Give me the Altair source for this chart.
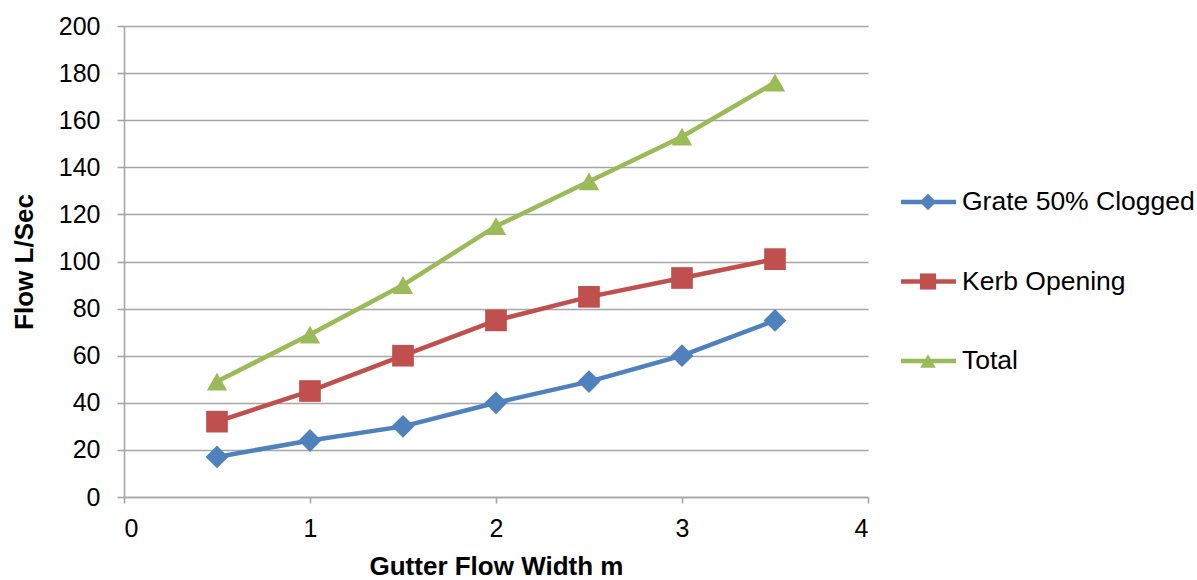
import altair as alt
import pandas as pd

# Gutter flow width (m) and inlet capacities (L/Sec)
widths = [0.5, 1.0, 1.5, 2.0, 2.5, 3.0, 3.5]
grate = [17, 24, 30, 40, 49, 60, 75]
kerb = [32, 45, 60, 75, 85, 93, 101]
total = [49, 69, 90, 115, 134, 153, 176]

series_names = ["Grate 50% Clogged", "Kerb Opening", "Total"]
series_colors = ["#4F81BD", "#C0504D", "#9BBB59"]
series_shapes = ["diamond", "square", "triangle-up"]
marker_sizes = [520, 420, 820]
legend_marker_sizes = [270, 250, 420]

rows = []
for name, vals in zip(series_names, [grate, kerb, total]):
    for w, v in zip(widths, vals):
        rows.append({"width": w, "flow": v, "series": name})
df = pd.DataFrame(rows)
legend_df = pd.DataFrame({"series": series_names})

FONT = "Liberation Sans"
GRID = "#A6A6A6"

color_enc = alt.Color("series:N", scale=alt.Scale(domain=series_names, range=series_colors), legend=None)
shape_enc = alt.Shape("series:N", scale=alt.Scale(domain=series_names, range=series_shapes), legend=None)

x_enc = alt.X(
    "width:Q",
    scale=alt.Scale(domain=[0, 4], nice=False),
    axis=alt.Axis(
        title="Gutter Flow Width m", values=[0, 1, 2, 3, 4], grid=False,
        tickSize=6, labelPadding=13, titlePadding=12,
    ),
)
y_enc = alt.Y(
    "flow:Q",
    scale=alt.Scale(domain=[0, 200], nice=False),
    axis=alt.Axis(
        title="Flow L/Sec", values=list(range(0, 201, 20)), grid=True,
        tickSize=7, labelPadding=17, titlePadding=21,
    ),
)

lines = alt.Chart(df).mark_line(strokeWidth=4.5).encode(x=x_enc, y=y_enc, color=color_enc, detail="series:N")
points = alt.Chart(df).mark_point(filled=True, opacity=1).encode(
    x=x_enc, y=y_enc, color=color_enc, shape=shape_enc,
    size=alt.Size("series:N", scale=alt.Scale(domain=series_names, range=marker_sizes), legend=None),
)
plot = alt.layer(lines, points)

# Legend drawn beside the plot area
leg_y = alt.Y("series:N", sort=series_names,
              scale=alt.Scale(type="point", domain=series_names, range=[176, 335], padding=0),
              axis=None)
leg_line = alt.Chart(legend_df).mark_rule(strokeWidth=4.5).encode(
    y=leg_y, x=alt.value(777), x2=alt.value(832), color=color_enc
)
leg_pts = alt.Chart(legend_df).mark_point(filled=True, opacity=1).encode(
    y=leg_y, x=alt.value(804), color=color_enc, shape=shape_enc,
    size=alt.Size("series:N", scale=alt.Scale(domain=series_names, range=legend_marker_sizes), legend=None),
)
leg_txt = alt.Chart(legend_df).mark_text(
    align="left", baseline="middle", font=FONT, fontSize=26.5, color="#000000"
).encode(y=leg_y, x=alt.value(838), text="series:N")
legend = alt.layer(leg_line, leg_pts, leg_txt).resolve_scale(size="independent")

chart = (
    alt.layer(plot, legend)
    .resolve_scale(y="independent", size="independent")
    .properties(
        width=744, height=471, background="white",
        padding={"left": 11, "top": 14, "right": 0, "bottom": 0},
    )
    .configure_view(stroke=None)
    .configure_axis(
        labelFont=FONT, titleFont=FONT, labelFontSize=25, titleFontSize=26,
        labelColor="#000000", titleColor="#000000", titleFontWeight="bold",
        domainColor=GRID, tickColor=GRID, gridColor=GRID,
        domainWidth=1.6, tickWidth=1.6, gridWidth=1.6,
    )
)

chart.save("out.html", embed_options={"renderer": "svg", "actions": False})
